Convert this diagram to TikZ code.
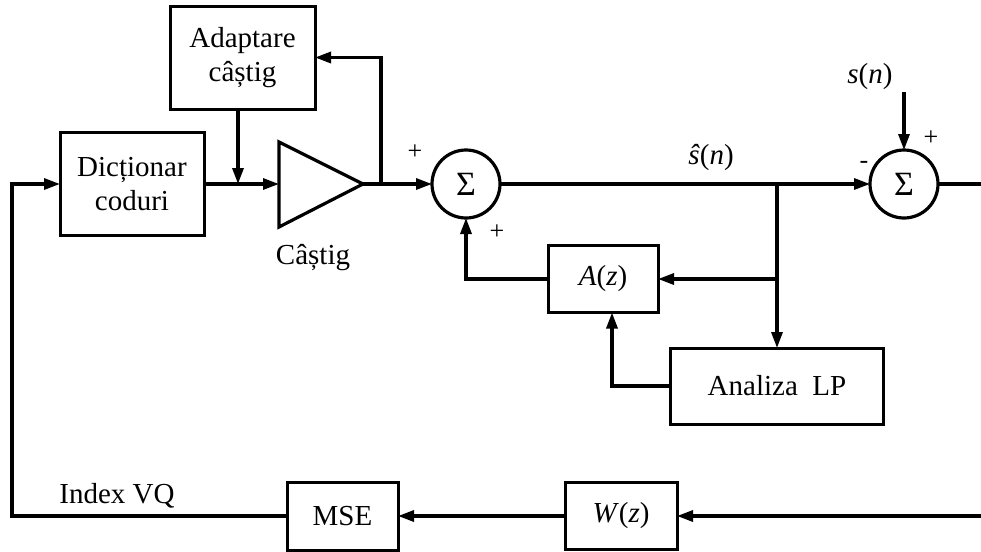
\documentclass[tikz,border=0pt]{standalone}
\usepackage{fontspec}
\setmainfont{Liberation Serif}
\usetikzlibrary{arrows.meta}
\begin{document}
\begin{tikzpicture}[x=0.5pt,y=-0.5pt,
  box/.style={draw,line width=1.5pt,inner sep=0pt,outer sep=0pt,align=center,font=\fontsize{14.5}{17}\selectfont},
  sumc/.style={draw,circle,line width=1.6pt,minimum size=34pt,inner sep=0pt,outer sep=0pt,font=\fontsize{17}{17}\selectfont},
  wire/.style={line width=1.6pt},
  arr/.style={wire,-{Triangle[length=8pt,width=5.5pt]}},
  lbl/.style={inner sep=0pt,font=\fontsize{14.5}{17}\selectfont},
  sgn/.style={inner sep=0pt,font=\fontsize{13}{13}\selectfont}]
\useasboundingbox (0,0) rectangle (981,552);
% blocks
\node[box,minimum width=72.5pt,minimum height=51.5pt] (adapt) at (242.5,57.5) {Adaptare\\câștig};
\node[box,minimum width=72pt,minimum height=51.5pt] (dict) at (132,184) {Dicționar\\coduri};
\draw[line width=1.6pt,line join=miter] (279,142) -- (363,184) -- (279,227) -- cycle;
\coordinate (tin) at (279,184);
\coordinate (tout) at (363,184);
\node[sumc] (s1) at (466,184) {Σ};
\node[sumc] (s2) at (904,184) {Σ};
\node[box,minimum width=55pt,minimum height=33.5pt] (A) at (603,279) {\textit{A}(\textit{z})};
\node[box,minimum width=106.5pt,minimum height=38pt] (LP) at (777,386) {Analiza\ \ LP};
\node[box,minimum width=55.5pt,minimum height=34pt] (mse) at (342.5,516) {MSE};
\node[box,minimum width=56pt,minimum height=33.5pt] (W) at (621,516) {\textit{W}(\textit{z})};
% helper coordinates
\coordinate (jadapt) at (238,184);
\coordinate (jfb) at (381,184);
\coordinate (jlp) at (777,184);
\coordinate (right1) at (981,184);
\coordinate (right2) at (981,516);
\coordinate (lt) at (12,184);
\coordinate (sin) at (904,92);
\coordinate (ax) at (612,0);
% wires
\draw[arr] (mse.west) -| (lt) -- (dict.west);
\draw[arr] (dict.east) -- (tin);
\draw[arr] (adapt.south -| jadapt) -- (jadapt);
\draw[wire] (tout) -- (jfb);
\draw[arr] (jfb) -- (s1.west);
\draw[arr] (jfb) |- (adapt.east);
\draw[arr] (s1.east) -- (s2.west);
\draw[arr] (jlp) |- (A.east);
\draw[arr] (jlp) -- (LP.north);
\draw[arr] (A.west) -| (s1.south);
\draw[arr] (LP.west) -| (A.south -| ax);
\draw[wire] (s2.east) -- (right1);
\draw[arr] (right2) -- (W.east);
\draw[arr] (W.west) -- (mse.east);
\draw[arr] (sin) -- (s2.north);
% labels
\node[sgn] (p1) at (415,152) {+};
\node[sgn] (p2) at (497,232) {+};
\node[sgn] (p3) at (931,138) {+};
\node[sgn] (m1) at (864,165) {-};
\node[lbl] (shat) at (711,158) {\textit{ŝ}(\textit{n})};
\node[lbl] (sn) at (870,77) {\textit{s}(\textit{n})};
\node[lbl] (castig) at (313,258) {Câștig};
\node[lbl] (idx) at (117,496) {Index VQ};
\end{tikzpicture}
\end{document}
